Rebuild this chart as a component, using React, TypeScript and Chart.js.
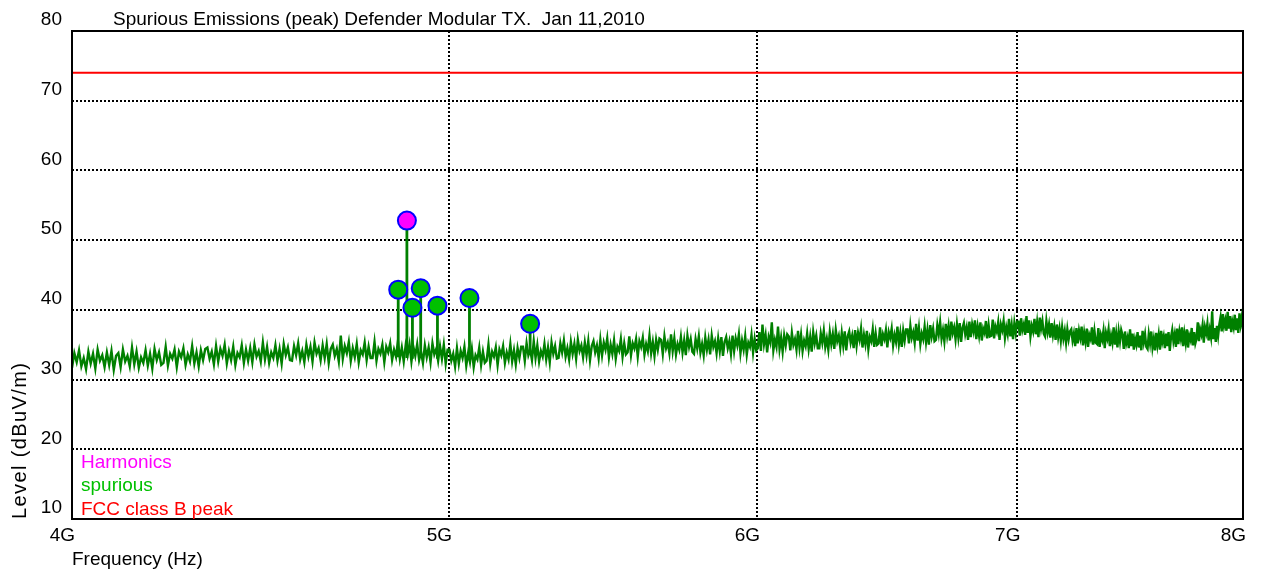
import { useEffect, useRef } from "react";
import { Chart, registerables } from "chart.js";

Chart.register(...registerables);

// Sweep span of the analyser trace (Hz)
const FREQ_START_HZ = 4e9;
const FREQ_STOP_HZ = 8e9;

// Axis ticks
const X_TICKS_HZ = [4e9, 5e9, 6e9, 7e9, 8e9];
const X_TICK_LABELS = ["4G", "5G", "6G", "7G", "8G"];
const Y_TICKS = [10, 20, 30, 40, 50, 60, 70, 80];

// Peak-detector sweep, dBuV/m, evenly spaced from 4 GHz to 8 GHz
const SWEEP_LEVELS = [
  31.7, 33.8, 32.5, 34.2, 31.9, 33.1, 31.5, 34.0, 32.3, 33.7, 31.6, 34.3, 32.7, 33.5, 31.8, 33.9, 32.1, 34.1, 31.4, 33.4,
  33.8, 31.8, 34.3, 32.6, 33.4, 31.9, 34.6, 32.2, 34.0, 31.7, 33.2, 32.4, 34.2, 32.0, 33.7, 31.6, 34.4, 32.8, 33.9, 32.1,
  32.4, 34.7, 32.0, 33.7, 33.0, 34.3, 31.8, 34.0, 33.2, 34.5, 32.1, 33.6, 32.6, 34.8, 32.3, 33.9, 31.9, 34.2, 32.8, 34.4,
  34.6, 33.0, 34.0, 32.2, 34.8, 32.6, 34.4, 33.4, 35.0, 32.3, 34.1, 32.8, 34.7, 32.1, 33.8, 33.2, 34.9, 32.4, 34.3, 32.7,
  34.5, 32.5, 35.0, 33.3, 34.1, 32.6, 35.3, 32.9, 34.7, 32.4, 33.9, 33.1, 34.9, 32.7, 34.4, 32.3, 35.1, 33.5, 34.6, 32.8,
  32.7, 34.8, 33.5, 35.2, 32.9, 34.1, 32.5, 35.0, 33.3, 34.7, 32.6, 35.3, 33.7, 34.5, 32.8, 34.9, 33.1, 35.1, 32.4, 34.4,
  35.0, 33.4, 34.4, 32.6, 36.3, 33.0, 34.8, 33.8, 35.4, 32.7, 34.5, 33.2, 35.1, 32.5, 34.2, 33.6, 35.3, 32.8, 34.7, 33.1,
  33.1, 35.4, 32.7, 34.4, 33.7, 35.0, 32.5, 34.7, 33.9, 35.2, 32.8, 34.3, 33.3, 35.5, 33.0, 34.6, 32.6, 34.9, 33.5, 35.1,
  32.6, 34.7, 33.4, 35.1, 32.8, 34.0, 32.4, 34.9, 33.2, 34.6, 32.5, 35.2, 33.6, 34.4, 32.7, 34.8, 33.0, 35.0, 32.3, 34.3,
  34.3, 32.7, 33.7, 31.9, 34.5, 32.3, 34.1, 33.1, 34.7, 32.0, 33.8, 32.5, 34.4, 31.8, 33.5, 32.9, 34.6, 32.1, 34.0, 32.4,
  32.7, 35.0, 32.3, 34.0, 33.3, 34.6, 32.1, 34.3, 33.5, 34.8, 32.4, 33.9, 32.9, 35.1, 32.6, 34.2, 32.2, 34.5, 33.1, 34.7,
  34.7, 32.7, 35.2, 33.5, 34.3, 32.8, 35.5, 33.1, 34.9, 32.6, 34.1, 33.3, 35.1, 32.9, 34.6, 32.5, 35.3, 33.7, 34.8, 33.0,
  33.1, 35.2, 33.9, 35.6, 33.3, 34.5, 32.9, 35.4, 33.7, 35.1, 33.0, 35.7, 34.1, 34.9, 33.2, 35.3, 33.5, 35.5, 32.8, 34.8,
  35.5, 33.9, 34.9, 33.1, 35.7, 33.5, 35.3, 34.3, 35.9, 33.2, 35.0, 33.7, 35.6, 33.0, 34.7, 34.1, 35.8, 33.3, 35.2, 33.6,
  33.9, 36.2, 33.5, 35.2, 34.5, 35.8, 33.3, 35.5, 34.7, 36.0, 33.6, 35.1, 34.1, 36.3, 33.8, 35.4, 33.4, 35.7, 34.3, 35.9,
  35.7, 33.7, 36.2, 34.5, 35.3, 33.8, 36.5, 34.1, 35.9, 33.6, 35.1, 34.3, 36.1, 33.9, 35.6, 33.5, 36.3, 34.7, 35.8, 34.0,
  33.7, 35.8, 34.5, 36.2, 33.9, 35.1, 33.5, 36.0, 34.3, 35.7, 33.6, 36.3, 34.7, 35.5, 33.8, 35.9, 34.1, 36.1, 33.4, 35.4,
  36.1, 34.5, 35.5, 33.7, 36.3, 34.1, 35.9, 34.9, 36.5, 33.8, 35.6, 34.3, 36.2, 33.6, 35.3, 34.7, 36.4, 33.9, 35.8, 34.2,
  34.5, 36.8, 34.1, 37.9, 35.1, 36.4, 33.9, 36.1, 35.3, 38.2, 34.2, 35.7, 34.7, 37.6, 34.4, 36.0, 34.0, 36.3, 34.9, 36.5,
  36.2, 34.2, 36.7, 35.0, 35.8, 34.3, 37.0, 34.6, 36.4, 34.1, 35.6, 34.8, 36.6, 34.4, 36.1, 34.0, 36.8, 35.2, 36.3, 34.5,
  34.5, 36.6, 35.3, 37.0, 34.7, 35.9, 34.3, 36.8, 35.1, 36.5, 34.4, 37.1, 35.5, 36.3, 34.6, 36.7, 34.9, 36.9, 34.2, 36.2,
  36.9, 35.3, 36.3, 34.5, 37.1, 34.9, 36.7, 35.7, 37.3, 34.6, 36.4, 35.1, 37.0, 34.4, 36.1, 35.5, 37.2, 34.7, 36.6, 35.0,
  35.2, 37.5, 34.8, 36.5, 35.8, 37.1, 34.6, 36.8, 36.0, 37.3, 34.9, 36.4, 35.4, 37.6, 35.1, 36.7, 34.7, 37.0, 35.6, 37.2,
  37.2, 35.2, 37.7, 36.0, 36.8, 35.3, 38.0, 35.6, 37.4, 35.1, 36.6, 35.8, 37.6, 35.4, 37.1, 35.0, 37.8, 36.2, 37.3, 35.5,
  35.7, 37.8, 36.5, 38.2, 35.9, 37.1, 35.5, 38.0, 36.3, 37.7, 35.6, 38.3, 36.7, 37.5, 35.8, 37.9, 36.1, 38.1, 35.4, 37.4,
  38.1, 36.5, 37.5, 35.7, 38.3, 36.1, 37.9, 36.9, 38.5, 35.8, 37.6, 36.3, 38.2, 35.6, 37.3, 36.7, 38.4, 35.9, 37.8, 36.2,
  36.3, 38.6, 35.9, 37.6, 36.9, 38.2, 35.7, 37.9, 37.1, 38.4, 36.0, 37.5, 36.5, 38.7, 36.2, 37.8, 35.8, 38.1, 36.7, 38.3,
  38.3, 36.3, 38.8, 37.1, 37.9, 36.4, 39.1, 36.7, 38.5, 36.2, 37.7, 36.9, 38.7, 36.5, 38.2, 36.1, 38.9, 37.3, 38.4, 36.6,
  36.2, 38.4, 36.8, 37.9, 36.0, 38.1, 36.4, 37.6, 35.7, 37.9, 36.1, 37.3, 35.6, 37.5, 35.9, 37.0, 35.3, 37.2, 35.8, 36.9,
  37.2, 35.6, 36.6, 34.8, 37.4, 35.2, 37.0, 36.0, 37.6, 34.9, 36.7, 35.4, 37.3, 34.7, 36.4, 35.8, 37.5, 35.0, 36.9, 35.3,
  35.1, 37.4, 34.7, 36.4, 35.7, 37.0, 34.5, 36.7, 35.9, 37.2, 34.8, 36.3, 35.3, 37.5, 35.0, 36.6, 34.6, 36.9, 35.5, 37.1,
  36.4, 34.4, 36.9, 35.2, 36.0, 34.5, 37.2, 34.8, 36.6, 34.3, 35.8, 35.0, 36.8, 34.6, 36.3, 34.2, 37.0, 35.4, 36.5, 34.7,
  34.4, 36.5, 35.2, 36.9, 34.6, 35.8, 34.2, 36.7, 35.0, 36.4, 34.3, 37.0, 35.4, 36.2, 34.5, 36.6, 34.8, 36.8, 34.1, 36.1,
  37.1, 35.5, 36.5, 34.7, 37.3, 35.1, 36.9, 35.9, 37.5, 34.8, 36.6, 35.3, 37.2, 34.6, 36.3, 35.7, 37.4, 34.9, 36.8, 35.2,
  35.9, 38.2, 35.5, 37.2, 36.5, 37.8, 35.3, 37.5, 36.7, 38.0, 35.6, 37.1, 36.1, 39.8, 35.8, 37.4, 35.4, 37.7, 36.3, 37.9,
  38.9, 36.9, 39.4, 37.7, 38.5, 37.0, 39.7, 37.3, 39.1, 36.8, 38.3, 37.5, 39.3, 37.1, 38.8, 36.7, 39.5, 37.9, 39.0, 37.2,
];

// Flagged spurious peaks
const SPUR_FREQS_HZ = [4.852e9, 4.893e9, 4.917e9, 4.966e9, 5.061e9, 5.246e9];
const SPUR_LEVELS = [42.9, 40.3, 43.1, 40.6, 41.7, 38.0];
const SPUR_FLOORS = [33.2, 33.0, 33.4, 33.0, 32.8, 33.6];

// Flagged harmonic peaks
const HARMONIC_FREQS_HZ = [4.877e9];
const HARMONIC_LEVELS = [52.8];
const HARMONIC_FLOORS = [33.1];

// FCC class B peak limit, dBuV/m
const FCC_LIMIT = 74;

const LEGEND_LABELS = ["Harmonics", "spurious", "FCC class B peak"];
const LEGEND_COLORS = ["#FF00FF", "#00C000", "#FF0000"];

const TITLE = "Spurious Emissions (peak) Defender Modular TX.  Jan 11,2010";
const Y_TITLE = "Level (dBuV/m)";
const X_TITLE = "Frequency (Hz)";

const FONT_FAMILY = "'Liberation Sans', Arial, sans-serif";
const FONT = { family: FONT_FAMILY, size: 19 };

const sweepPoints = SWEEP_LEVELS.map((y, i) => ({
  x: FREQ_START_HZ + (i * (FREQ_STOP_HZ - FREQ_START_HZ)) / (SWEEP_LEVELS.length - 1),
  y,
}));

// Vertical stems joining each flagged peak to the trace below it
const stemPoints: { x: number; y: number | null }[] = [];
const addStems = (freqs: number[], levels: number[], floors: number[]) => {
  freqs.forEach((f, i) => {
    stemPoints.push({ x: f, y: floors[i] }, { x: f, y: levels[i] }, { x: f, y: null });
  });
};
addStems(SPUR_FREQS_HZ, SPUR_LEVELS, SPUR_FLOORS);
addStems(HARMONIC_FREQS_HZ, HARMONIC_LEVELS, HARMONIC_FLOORS);

const notesPlugin = {
  id: "frameAndNotes",
  afterDraw(chart: any) {
    const { ctx, chartArea } = chart;
    const { left, top, right, bottom } = chartArea;
    ctx.save();
    ctx.strokeStyle = "#000";
    ctx.lineWidth = 2;
    ctx.strokeRect(left, top, right - left, bottom - top);

    ctx.font = `19px ${FONT_FAMILY}`;
    ctx.textBaseline = "alphabetic";
    ctx.textAlign = "left";
    ctx.fillStyle = "#000";
    ctx.fillText(TITLE, 113, 25);

    LEGEND_LABELS.forEach((label, i) => {
      ctx.fillStyle = LEGEND_COLORS[i];
      ctx.fillText(label, left + 9, bottom - 51.5 + i * 23.9);
    });

    // Vertical axis caption, reading upwards from the bottom of the plot
    ctx.save();
    ctx.translate(20, bottom);
    ctx.rotate(-Math.PI / 2);
    ctx.fillStyle = "#000";
    ctx.textBaseline = "middle";
    (ctx as any).letterSpacing = "1.4px";
    ctx.font = `20px ${FONT_FAMILY}`;
    ctx.fillText(Y_TITLE, 0, 0);
    ctx.restore();

    ctx.restore();
  },
};

export default function App() {
  const canvasRef = useRef<HTMLCanvasElement>(null);

  useEffect(() => {
    if (!canvasRef.current) return;
    const gridStyle = { color: "#000", lineWidth: 2, drawTicks: false };
    const borderStyle = { display: false, dash: [2, 2] };
    const chart = new Chart(canvasRef.current, {
      type: "line",
      data: {
        datasets: [
          {
            label: "Harmonics",
            data: HARMONIC_FREQS_HZ.map((x, i) => ({ x, y: HARMONIC_LEVELS[i] })),
            showLine: false,
            pointRadius: 9,
            pointBackgroundColor: "#FF00FF",
            pointBorderColor: "#0000FF",
            pointBorderWidth: 2,
          },
          {
            label: "spurious",
            data: SPUR_FREQS_HZ.map((x, i) => ({ x, y: SPUR_LEVELS[i] })),
            showLine: false,
            pointRadius: 9,
            pointBackgroundColor: "#00C000",
            pointBorderColor: "#0000FF",
            pointBorderWidth: 2,
          },
          {
            label: "stems",
            data: stemPoints,
            borderColor: "#008000",
            borderWidth: 2.8,
            pointRadius: 0,
            spanGaps: false,
          },
          {
            label: "FCC class B peak",
            data: [
              { x: FREQ_START_HZ, y: FCC_LIMIT },
              { x: FREQ_STOP_HZ, y: FCC_LIMIT },
            ],
            borderColor: "#FF0000",
            borderWidth: 2,
            pointRadius: 0,
          },
          {
            label: "trace",
            data: sweepPoints,
            borderColor: "#008000",
            borderWidth: 2.4,
            pointRadius: 0,
            tension: 0,
          },
        ],
      },
      options: {
        animation: false,
        responsive: true,
        maintainAspectRatio: false,
        events: [],
        layout: { padding: { left: 0, top: 31, right: 21, bottom: 0 } },
        plugins: { legend: { display: false }, tooltip: { enabled: false }, title: { display: false } },
        scales: {
          x: {
            type: "logarithmic",
            min: FREQ_START_HZ,
            max: FREQ_STOP_HZ,
            afterBuildTicks: (s: any) => {
              s.ticks = X_TICKS_HZ.map((value) => ({ value }));
            },
            afterFit: (s: any) => {
              s.height = 54;
            },
            grid: gridStyle,
            border: borderStyle,
            ticks: {
              callback: (v: any) => X_TICK_LABELS[X_TICKS_HZ.indexOf(Number(v))],
              align: "end",
              labelOffset: 3,
              padding: 5,
              maxRotation: 0,
              autoSkip: false,
              color: "#000",
              font: FONT,
            },
            title: {
              display: true,
              text: X_TITLE,
              align: "start",
              color: "#000",
              font: FONT,
              padding: { top: 0, bottom: 2 },
            },
          },
          y: {
            type: "linear",
            min: 10,
            max: 80,
            afterBuildTicks: (s: any) => {
              s.ticks = Y_TICKS.map((value) => ({ value }));
            },
            afterFit: (s: any) => {
              s.width = 72;
            },
            grid: gridStyle,
            border: borderStyle,
            ticks: {
              padding: 10,
              labelOffset: -11,
              color: "#000",
              font: FONT,
            },
          },
        },
      },
      plugins: [notesPlugin],
    } as any);
    return () => chart.destroy();
  }, []);

  return (
    <div style={{ position: "fixed", left: 0, top: 0, width: 1264, height: 573, background: "#fff" }}>
      <canvas ref={canvasRef} />
    </div>
  );
}
